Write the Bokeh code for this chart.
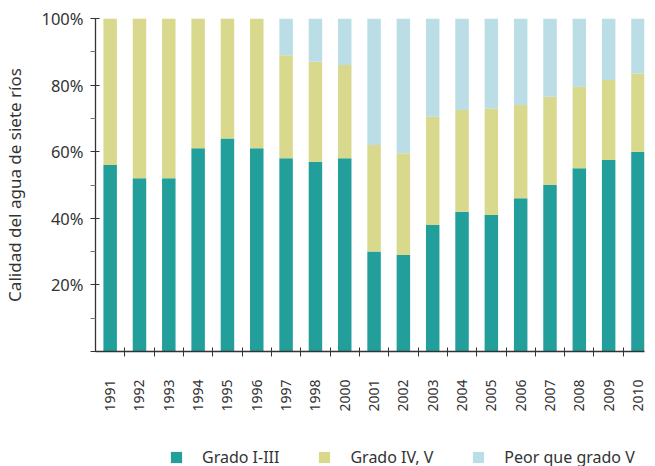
import math
from bokeh.plotting import figure
from bokeh.layouts import column
from bokeh.models import ColumnDataSource, FixedTicker, Range1d, Legend, LegendItem
from bokeh.embed import file_html
from bokeh.resources import INLINE

years = ["1991", "1992", "1993", "1994", "1995", "1996", "1997", "1998", "2000",
         "2001", "2002", "2003", "2004", "2005", "2006", "2007", "2008", "2009", "2010"]
grado_1_3 = [56, 52, 52, 61, 64, 61, 58, 57, 58, 30, 29, 38, 42, 41, 46, 50, 55, 57.5, 60]
grado_4_5 = [44, 48, 48, 39, 36, 39, 31, 30, 28, 32, 30.5, 32.5, 30.5, 32, 28, 26.5, 24.5, 24, 23.5]
peor_5 = [0, 0, 0, 0, 0, 0, 11, 13, 14, 38, 40.5, 29.5, 27.5, 27, 26, 23.5, 20.5, 18.5, 16.5]
series_labels = ["Grado I-III", "Grado IV, V", "Peor que grado V"]
y_ticks = [0, 20, 40, 60, 80, 100]
y_minor = [10, 30, 50, 70, 90]

colors = ["#229f9b", "#d8d98c", "#badde6"]
FONT = "Noto Sans"
TXT = "#333333"

xs = list(range(len(years)))
source = ColumnDataSource(dict(x=xs, g1=grado_1_3, g2=grado_4_5, g3=peor_5))

W = 647
LEFT, RIGHT, TOP, BOTTOM = 87, 3, 18, 62
FH = 334
FW = W - LEFT - RIGHT
p = figure(width=W, height=TOP + FH + BOTTOM, output_backend="svg", toolbar_location=None,
           x_range=Range1d(-0.5, -0.5 + FW / 29.75), y_range=Range1d(0, 100),
           min_border_left=LEFT, min_border_right=RIGHT, min_border_top=TOP, min_border_bottom=BOTTOM)
p.outline_line_color = None
p.xgrid.visible = False
p.ygrid.visible = False

rs = p.vbar_stack(["g1", "g2", "g3"], x="x", width=0.46, color=colors, line_color=None, source=source)

# x axis
xa = p.xaxis[0]
xa.ticker = FixedTicker(ticks=xs, minor_ticks=[i + 0.5 for i in xs[:-1]])
xa.major_label_overrides = {i: y for i, y in enumerate(years)}
xa.major_label_orientation = math.pi / 2
xa.major_tick_in = 0
xa.major_tick_out = 0
xa.minor_tick_in = 4
xa.minor_tick_out = 5
xa.minor_tick_line_color = TXT
xa.axis_line_color = TXT
xa.axis_line_width = 1.3
xa.major_label_standoff = 23
xa.major_label_text_font = FONT
xa.major_label_text_font_size = "14px"
xa.major_label_text_color = TXT

# y axis
ya = p.yaxis[0]
ya.ticker = FixedTicker(ticks=y_ticks, minor_ticks=y_minor)
ya.major_label_overrides = {t: ("" if t == 0 else f"{t}%") for t in y_ticks}
ya.major_tick_in = 4
ya.major_tick_out = 5
ya.minor_tick_in = 0
ya.minor_tick_out = 5
ya.major_tick_line_color = TXT
ya.minor_tick_line_color = "#777777"
ya.axis_line_color = TXT
ya.axis_line_width = 1.3
ya.major_label_standoff = 7
ya.major_label_text_font = FONT
ya.major_label_text_font_size = "16.5px"
ya.major_label_text_color = TXT
ya.axis_label = "Calidad del agua de siete ríos"
ya.axis_label_text_font = FONT
ya.axis_label_text_font_size = "17px"
ya.axis_label_text_font_style = "normal"
ya.axis_label_text_color = TXT
ya.axis_label_standoff = 12

# legend strip below the chart (its bars lie outside its visible range; only the legend shows)
LH = 56
q = figure(width=W, height=LH, output_backend="svg", toolbar_location=None,
           x_range=Range1d(-0.5, -0.5 + FW / 29.75), y_range=Range1d(1000, 1001),
           min_border_left=0, min_border_right=0, min_border_top=0, min_border_bottom=0)
q.outline_line_color = None
q.xgrid.visible = False
q.ygrid.visible = False
q.xaxis.visible = False
q.yaxis.visible = False
swatches = q.vbar_stack(["g1", "g2", "g3"], x="x", width=0.46, color=colors, line_color=None, source=source)
legend = Legend(items=[LegendItem(label=lab, renderers=[r]) for lab, r in zip(series_labels, swatches)],
                orientation="horizontal", location=(74, 2),
                glyph_width=14, glyph_height=14, label_standoff=19, spacing=38,
                margin=0, padding=0, border_line_color=None, background_fill_alpha=0,
                label_text_font=FONT, label_text_font_size="16px", label_text_color=TXT)
q.add_layout(legend, "center")

layout = column(p, q, spacing=0)
open("out.html", "w").write(file_html(layout, INLINE))
